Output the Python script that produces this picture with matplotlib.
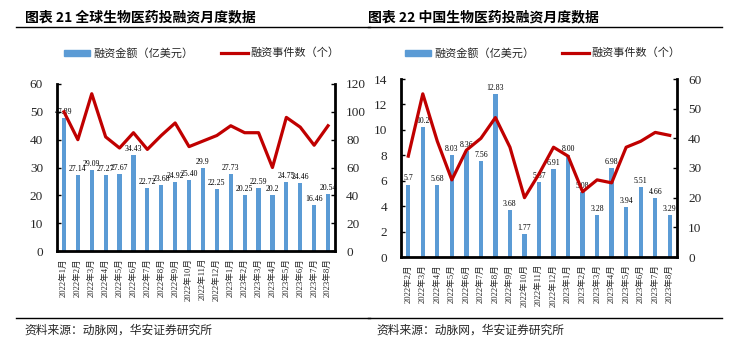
import matplotlib
matplotlib.use("Agg")
import matplotlib.pyplot as plt
from matplotlib.lines import Line2D

plt.rcParams['font.family'] = ['Liberation Serif', 'Noto Sans CJK SC']

# ---------------- data ----------------
left_months = ["2022年1月", "2022年2月", "2022年3月", "2022年4月", "2022年5月", "2022年6月",
               "2022年7月", "2022年8月", "2022年9月", "2022年10月", "2022年11月", "2022年12月",
               "2023年1月", "2023年2月", "2023年3月", "2023年4月", "2023年5月", "2023年6月",
               "2023年7月", "2023年8月"]
left_amount = [47.89, 27.14, 29.09, 27.27, 27.67, 34.43, 22.72, 23.68, 24.92, 25.40,
               29.9, 22.25, 27.73, 20.25, 22.59, 20.2, 24.75, 24.46, 16.46, 20.54]
left_amount_labels = ["47.89", "27.14", "29.09", "27.27", "27.67", "34.43", "22.72", "23.68",
                      "24.92", "25.40", "29.9", "22.25", "27.73", "20.25", "22.59", "20.2",
                      "24.75", "24.46", "16.46", "20.54"]
left_events = [100, 80, 113, 82, 74, 85, 73, 83, 92, 75, 79, 83, 90, 85, 85, 60, 96, 89, 76, 90]

right_months = ["2022年2月", "2022年3月", "2022年4月", "2022年5月", "2022年6月", "2022年7月",
                "2022年8月", "2022年9月", "2022年10月", "2022年11月", "2022年12月", "2023年1月",
                "2023年2月", "2023年3月", "2023年4月", "2023年5月", "2023年6月", "2023年7月",
                "2023年8月"]
right_amount = [5.7, 10.2, 5.68, 8.03, 8.36, 7.56, 12.83, 3.68, 1.77, 5.87, 6.91, 8.00,
                5.08, 3.28, 6.98, 3.94, 5.51, 4.66, 3.29]
right_amount_labels = ["5.7", "10.2", "5.68", "8.03", "8.36", "7.56", "12.83", "3.68", "1.77",
                       "5.87", "6.91", "8.00", "5.08", "3.28", "6.98", "3.94", "5.51", "4.66",
                       "3.29"]
right_events = [34, 55, 39, 26, 36, 40, 47, 37, 20, 28, 37, 34, 22, 26, 25, 37, 39, 42, 41]

left_title = "图表 21 全球生物医药投融资月度数据"
right_title = "图表 22 中国生物医药投融资月度数据"
legend_bar = "融资金额（亿美元）"
legend_line = "融资事件数（个）"
source = "资料来源：动脉网，华安证券研究所"

BAR_C = "#5B9BD5"
LINE_C = "#C00000"
TXT_C = "#262626"

W, H = 737, 347
fig = plt.figure(figsize=(W / 100, H / 100), dpi=100)


def px_axes(x0, y0, x1, y1):
    return fig.add_axes([x0 / W, 1 - y1 / H, (x1 - x0) / W, (y1 - y0) / H])


def panel(box, months, amount, labels, events, ylim_l, yt_l, ylim_r, yt_r,
          title, tx, line_x0, line_x1, leg_x):
    ax = px_axes(*box)
    n = len(months)
    x = list(range(n))
    ax.bar(x, amount, width=0.3, color=BAR_C, zorder=2)
    for xi, v, lab in zip(x, amount, labels):
        ax.text(xi, v + (ylim_l[1] * 0.012), lab, ha='center', va='bottom',
                fontsize=5.6, color='black', zorder=5)
    ax.set_xlim(-0.5, n - 0.5)
    ax.set_ylim(*ylim_l)
    ax.set_yticks(yt_l)
    ax.set_xticks(x)
    ax.set_xticklabels(months, rotation=90, fontsize=6.2, color=TXT_C)
    ax.tick_params(axis='x', length=0, pad=5)
    ax.tick_params(axis='y', direction='in', length=3, width=1, labelsize=9.5,
                   labelcolor=TXT_C, pad=10)
    for s in ['left', 'bottom']:
        ax.spines[s].set_linewidth(2)
    ax.spines['top'].set_visible(False)
    ax.spines['right'].set_visible(False)

    ax2 = ax.twinx()
    ax2.plot(x, events, color=LINE_C, lw=2.3, zorder=4)
    ax2.set_ylim(*ylim_r)
    ax2.set_yticks(yt_r)
    ax2.tick_params(axis='y', direction='in', length=3, width=1, labelsize=9.5,
                    labelcolor=TXT_C, pad=8)
    ax2.spines['right'].set_linewidth(2)
    ax2.spines['top'].set_visible(False)
    ax2.spines['left'].set_visible(False)
    ax2.spines['bottom'].set_visible(False)
    ax.set_zorder(1)
    ax2.set_zorder(2)
    ax2.patch.set_visible(False)

    # title and rules
    fig.text(tx / W, 1 - 17 / H, title, fontsize=10, fontweight='bold',
             family=['Noto Sans CJK SC'], va='center', ha='left', color='black')
    fig.add_artist(Line2D([line_x0 / W, line_x1 / W], [1 - 27 / H, 1 - 27 / H],
                          color='black', lw=1))
    fig.add_artist(Line2D([line_x0 / W, line_x1 / W], [1 - 318 / H, 1 - 318 / H],
                          color='black', lw=1))
    fig.text((line_x0 + 8) / W, 1 - 330 / H, source, fontsize=8.5,
             family=['Noto Sans CJK SC'], va='center', ha='left', color=TXT_C)

    # legend
    lx = leg_x
    ly = 1 - 53 / H
    fig.add_artist(plt.Rectangle((lx / W, ly - 2.5 / H), 26 / W, 5 / H,
                                 color=BAR_C, transform=fig.transFigure))
    fig.text((lx + 29) / W, ly, legend_bar, fontsize=8, family=['Noto Sans CJK SC'],
             va='center', ha='left', color=TXT_C)
    fig.add_artist(Line2D([(lx + 157) / W, (lx + 184) / W], [ly, ly],
                          color=LINE_C, lw=2.3))
    fig.text((lx + 186) / W, ly, legend_line, fontsize=8, family=['Noto Sans CJK SC'],
             va='center', ha='left', color=TXT_C)
    return ax, ax2


panel((57, 84, 335, 251), left_months, left_amount, left_amount_labels, left_events,
      (0, 60), [0, 10, 20, 30, 40, 50, 60], (0, 120), [0, 20, 40, 60, 80, 100, 120],
      left_title, 25, 16, 370, 64)

panel((401, 79, 677, 257), right_months, right_amount, right_amount_labels, right_events,
      (0, 14), [0, 2, 4, 6, 8, 10, 12, 14], (0, 60), [0, 10, 20, 30, 40, 50, 60],
      right_title, 368, 368, 722, 405)

fig.savefig("out.png", dpi=100)
